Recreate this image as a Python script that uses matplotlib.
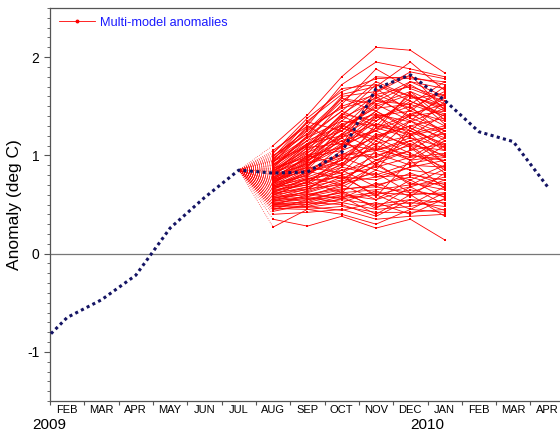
# -*- coding: utf-8 -*-
"""
plume of multi-model SST anomaly forecasts vs observed anomaly
"""
import numpy as np
import matplotlib
matplotlib.use('agg')
import matplotlib.pyplot as plt

plt.rcParams['font.family'] = ['Liberation Sans', 'DejaVu Sans']
plt.rcParams['axes.unicode_minus'] = False

# months from JAN 2009 (index 0) to APR 2010 (index 15)
month_labels = ['JAN', 'FEB', 'MAR', 'APR', 'MAY', 'JUN', 'JUL', 'AUG',
                'SEP', 'OCT', 'NOV', 'DEC', 'JAN', 'FEB', 'MAR', 'APR']
obs = [-1.00, -0.65, -0.47, -0.22, 0.26, 0.57, 0.85, 0.82,
       0.83, 1.03, 1.68, 1.82, 1.56, 1.24, 1.14, 0.68]

# forecasts start from JUL 2009 (index 6) and run AUG..JAN
fc_start = 6
fc_init = 0.85
# one row per member: AUG, SEP, OCT, NOV, DEC, JAN
members = [
    [1.10, 1.41, 1.80, 2.10, 2.07, 1.84],
    [1.05, 1.30, 1.72, 1.95, 1.88, 1.80],
    [1.00, 1.22, 1.55, 1.80, 1.78, 1.75],
    [0.98, 1.35, 1.62, 1.70, 1.95, 1.66],
    [0.95, 1.18, 1.45, 1.75, 1.60, 1.48],
    [0.93, 1.25, 1.50, 1.62, 1.70, 1.58],
    [0.90, 1.10, 1.38, 1.55, 1.72, 1.52],
    [0.88, 1.15, 1.30, 1.48, 1.52, 1.40],
    [0.86, 1.05, 1.42, 1.35, 1.58, 1.62],
    [0.85, 1.00, 1.20, 1.40, 1.45, 1.35],
    [0.83, 1.08, 1.28, 1.60, 1.38, 1.25],
    [0.82, 0.95, 1.15, 1.25, 1.40, 1.45],
    [0.80, 1.02, 1.35, 1.30, 1.22, 1.30],
    [0.78, 0.92, 1.10, 1.38, 1.50, 1.20],
    [0.77, 0.98, 1.05, 1.18, 1.30, 1.38],
    [0.75, 0.88, 1.22, 1.45, 1.28, 1.10],
    [0.74, 0.85, 0.98, 1.12, 1.20, 1.28],
    [0.72, 0.90, 1.12, 1.05, 1.35, 1.15],
    [0.70, 0.82, 0.95, 1.22, 1.10, 1.05],
    [0.69, 0.80, 1.02, 0.98, 1.15, 1.22],
    [0.67, 0.78, 0.90, 1.10, 1.00, 0.95],
    [0.66, 0.75, 0.85, 0.92, 1.05, 1.12],
    [0.64, 0.72, 0.96, 1.02, 0.90, 0.88],
    [0.63, 0.70, 0.80, 0.88, 0.98, 1.02],
    [0.61, 0.68, 0.75, 0.95, 0.85, 0.80],
    [0.60, 0.65, 0.88, 0.80, 0.92, 0.98],
    [0.58, 0.62, 0.72, 0.78, 0.80, 0.75],
    [0.57, 0.60, 0.68, 0.85, 0.75, 0.90],
    [0.55, 0.58, 0.65, 0.70, 0.78, 0.68],
    [0.54, 0.56, 0.62, 0.65, 0.70, 0.72],
    [0.52, 0.55, 0.58, 0.62, 0.60, 0.62],
    [0.51, 0.52, 0.60, 0.55, 0.65, 0.58],
    [0.50, 0.50, 0.55, 0.50, 0.55, 0.52],
    [0.48, 0.47, 0.52, 0.45, 0.48, 0.55],
    [0.46, 0.45, 0.48, 0.42, 0.42, 0.45],
    [0.40, 0.42, 0.45, 0.35, 0.38, 0.40],
    [0.35, 0.28, 0.38, 0.26, 0.35, 0.14],
    [0.27, 0.45, 0.40, 0.30, 0.45, 0.42],
    [0.92, 1.30, 1.10, 1.68, 1.45, 1.70],
    [0.87, 1.20, 1.58, 1.52, 1.65, 1.50],
    [0.81, 1.12, 1.40, 1.72, 1.55, 1.42],
    [0.79, 1.05, 1.25, 1.50, 1.62, 1.32],
    [0.76, 0.95, 1.18, 1.32, 1.25, 1.55],
    [0.73, 0.93, 1.28, 1.15, 1.42, 1.25],
    [0.71, 1.00, 1.08, 1.28, 1.18, 1.08],
    [0.68, 0.86, 1.00, 1.20, 1.30, 1.18],
    [0.65, 0.83, 0.92, 1.08, 0.95, 1.00],
    [0.62, 0.76, 0.82, 1.00, 1.10, 0.85],
    [0.59, 0.74, 0.78, 0.75, 0.88, 0.95],
    [0.56, 0.66, 0.70, 0.90, 0.72, 0.65],
    [0.53, 0.64, 0.78, 0.60, 0.68, 0.78],
    [0.49, 0.60, 0.66, 0.68, 0.62, 0.60],
    [1.02, 1.38, 1.65, 1.78, 1.80, 1.72],
    [0.96, 1.28, 1.48, 1.58, 1.75, 1.60],
    [0.89, 1.18, 1.35, 1.62, 1.48, 1.65],
    [0.84, 1.10, 1.32, 1.42, 1.34, 1.48],
    [0.45, 0.55, 0.62, 0.48, 0.52, 0.48],
    [0.43, 0.50, 0.58, 0.40, 0.60, 0.38],
    [0.94, 1.15, 1.52, 1.88, 1.68, 1.55],
    [0.97, 1.22, 1.60, 1.65, 1.85, 1.78],
    [0.91, 1.12, 1.25, 1.52, 1.35, 1.62],
    [0.87, 0.98, 1.32, 1.10, 1.48, 1.30],
    [0.84, 1.03, 1.18, 1.45, 1.25, 1.12],
    [0.81, 0.90, 1.08, 1.35, 1.55, 1.40],
    [0.78, 0.97, 1.22, 1.05, 1.18, 0.98],
    [0.76, 0.84, 0.95, 1.28, 1.42, 1.52],
    [0.74, 0.94, 1.15, 0.95, 1.05, 1.25],
    [0.72, 0.79, 1.05, 1.40, 1.22, 0.92],
    [0.70, 0.88, 0.82, 1.15, 0.95, 1.15],
    [0.68, 0.72, 0.98, 0.85, 1.25, 1.05],
    [0.66, 0.81, 1.10, 1.25, 1.08, 0.82],
    [0.65, 0.70, 0.92, 0.78, 0.88, 1.10],
    [0.63, 0.77, 0.70, 1.05, 1.15, 0.92],
    [0.62, 0.66, 0.85, 0.68, 0.82, 0.70],
    [0.60, 0.73, 0.62, 0.92, 0.70, 0.86],
    [0.58, 0.68, 0.80, 0.58, 0.95, 0.66],
    [0.56, 0.63, 0.74, 0.82, 0.62, 0.75],
    [0.55, 0.61, 0.56, 0.72, 0.58, 0.82],
    [0.53, 0.58, 0.70, 0.55, 0.75, 0.57],
    [0.51, 0.57, 0.52, 0.64, 0.50, 0.68],
    [0.50, 0.53, 0.64, 0.46, 0.68, 0.50],
    [0.49, 0.48, 0.56, 0.60, 0.45, 0.62],
    [0.47, 0.52, 0.50, 0.38, 0.55, 0.44],
    [0.45, 0.48, 0.44, 0.52, 0.40, 0.56],
    [0.90, 1.20, 1.45, 1.30, 1.62, 1.45],
    [0.86, 1.12, 1.20, 1.58, 1.40, 1.58],
    [0.83, 0.96, 1.40, 1.25, 1.65, 1.36],
    [0.80, 1.08, 1.12, 1.42, 1.10, 1.28],
    [0.77, 0.88, 1.30, 1.18, 1.35, 1.22],
    [0.75, 1.00, 0.90, 1.32, 1.20, 1.42],
    [0.73, 0.86, 1.18, 0.90, 1.28, 1.08],
    [0.71, 0.92, 1.00, 1.05, 0.98, 1.18],
    [0.69, 0.76, 0.88, 1.18, 1.02, 0.88],
    [0.67, 0.84, 0.76, 0.95, 1.12, 1.00],
    [0.99, 1.26, 1.58, 1.45, 1.75, 1.68],
    [1.03, 1.33, 1.68, 1.72, 1.60, 1.50],
    [0.94, 1.09, 1.42, 1.64, 1.82, 1.46],
    [0.95, 1.34, 1.25, 1.55, 1.52, 1.75],
]

x_all = np.arange(len(month_labels))
x_fc = np.arange(fc_start + 1, fc_start + 1 + len(members[0]))

fig = plt.figure(figsize=(5.6, 4.32), dpi=100)
ax = fig.add_axes([50/560, 31/432, 510/560, 393/432])

# ensemble members: dotted fan from the start month, then solid
for row in members:
    ax.plot([fc_start, fc_start + 1], [fc_init, row[0]], color='red',
            lw=0.5, ls=(0, (1, 2)))
    ax.plot(x_fc, row, color='red', lw=0.6, marker='s', ms=1.5,
            mew=0)

# legend entry
ax.plot([], [], color='red', lw=0.6, marker='o', ms=1.8,
        label='Multi-model anomalies')

# observed anomalies
ax.plot(x_all, obs, color='#141464', lw=2.2, ls=(0, (1, 1.1)),
        dash_capstyle='butt', zorder=5)

ax.axhline(0, color='#777777', lw=0.9, zorder=0)

ax.set_xlim(0.624, 15.36)
ax.set_ylim(-1.5, 2.5)

# month ticks at the boundaries, labels at the centres
ax.set_xticks(np.arange(0.5, 15.5, 1.0))
ax.set_xticklabels([])
ax.set_xticks(x_all[1:], minor=True)
ax.set_xticklabels(month_labels[1:], minor=True, fontsize=8)
ax.tick_params(axis='x', which='major', direction='out', length=3,
               color='#555555')
ax.tick_params(axis='x', which='minor', length=0, pad=3)

ax.set_yticks([-1, 0, 1, 2])
ax.set_yticks(np.arange(-1.5, 2.51, 0.1), minor=True)
ax.tick_params(axis='y', which='major', direction='out', length=4,
               labelsize=10, color='#555555')
ax.tick_params(axis='y', which='minor', direction='out', length=2.5,
               color='#555555')
ax.set_ylabel('Anomaly (deg C)', fontsize=12.5, labelpad=4)

fig.text(49.5/560, 1 - 425/432, '2009', fontsize=11, ha='center', va='center')
fig.text(427/560, 1 - 425/432, '2010', fontsize=11, ha='center', va='center')

for s in ['left', 'bottom', 'top']:
    ax.spines[s].set_color('#555555')
    ax.spines[s].set_linewidth(0.9)
ax.spines['right'].set_visible(False)

leg = ax.legend(loc='upper left', frameon=False, fontsize=9.2,
                handlelength=2.8, borderaxespad=0.3, handletextpad=0.4)
for t in leg.get_texts():
    t.set_color('#1a1aff')

plt.savefig('out.png', dpi=100)
